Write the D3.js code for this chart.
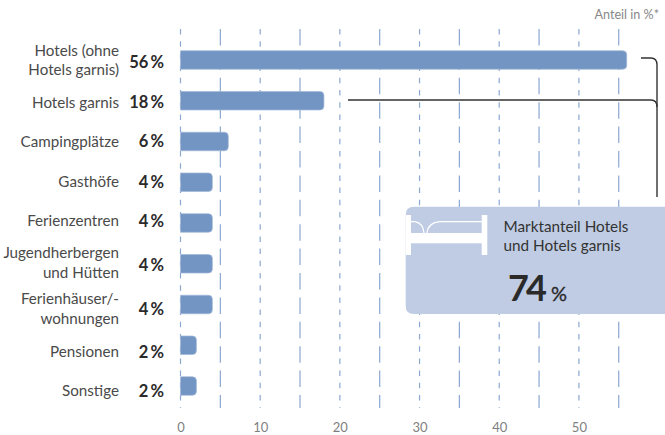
<!DOCTYPE html>
<html><head><meta charset="utf-8">
<script src="https://cdnjs.cloudflare.com/ajax/libs/d3/7.8.5/d3.min.js"></script>
<style>
html,body{margin:0;padding:0;background:#fff}
svg{display:block}
text{font-family:Lato,"Open Sans",sans-serif}
</style></head><body>
<div id="c"></div>
<script>
const categories = [["Hotels (ohne","Hotels garnis)"],["Hotels garnis"],["Campingplätze"],["Gasthöfe"],["Ferienzentren"],["Jugendherbergen","und Hütten"],["Ferienhäuser/-","wohnungen"],["Pensionen"],["Sonstige"]];
const values = [56,18,6,4,4,4,4,2,2];
const gridTicks = [0,5,10,15,20,25,30,35,40,45,50,55];
const axisTicks = [0,10,20,30,40,50];
const headerText = "Anteil in %*";
const calloutLines = ["Marktanteil Hotels","und Hotels garnis"];
const calloutValue = 74;

const W=665,H=435;
const svg=d3.select("#c").append("svg").attr("width",W).attr("height",H);
const x=d3.scaleLinear().domain([0,50]).range([180.5,578.9]);
const y=d3.scaleBand().domain(d3.range(values.length)).range([39.6,406.4]).paddingInner(0.545).paddingOuter(0.2725);
const barColor="#7295c3";

// grid
svg.append("g").selectAll("line").data(gridTicks).join("line")
 .attr("x1",d=>x(d)).attr("x2",d=>x(d)).attr("y1",29).attr("y2",408)
 .attr("stroke","#8ba8d1").attr("stroke-width",1.2)
 .attr("stroke-dasharray",d=>d%10===0?"5.5 6.7":"16.5 7.9");

// bars
svg.append("g").selectAll("path").data(values).join("path")
 .attr("fill",barColor).attr("stroke","#a3b9d9").attr("stroke-width",0.7)
 .attr("d",(d,i)=>{
   const x0=x(0),x1=x(d),y0=y(i),h=y.bandwidth(),r=4;
   return `M${x0},${y0}H${x1-r}Q${x1},${y0} ${x1},${y0+r}V${y0+h-r}Q${x1},${y0+h} ${x1-r},${y0+h}H${x0}Z`;
 });

// row labels (their rows do not sit exactly on the bars in the original)
const labelBaselines=[[56,75],[108],[147],[187],[226],[258,278],[304,324],[357],[396]];
const valueBaselines=[68,108,147,188,227,271,315,358,397];
const lab=svg.append("g").attr("text-anchor","end").attr("font-size",15.2).attr("fill","#4a4a4a");
categories.forEach((lines,i)=>lines.forEach((t,j)=>{
  lab.append("text").attr("x",119).attr("y",labelBaselines[i][j]).text(t);
}));
svg.append("g").attr("text-anchor","end").attr("font-size",16.5).attr("font-weight",700).attr("fill","#2b2a2a")
 .selectAll("text").data(values).join("text")
 .attr("x",164).attr("y",(d,i)=>valueBaselines[i]).text(d=>d+"\u2009%");

// axis
const ax=svg.append("g").attr("transform","translate(0,420)")
 .call(d3.axisBottom(x).tickValues(axisTicks).tickSize(0).tickPadding(3));
ax.select(".domain").remove();
ax.selectAll("text").attr("font-size",13).attr("fill","#7f7f7f").style("font-family","Lato,sans-serif");

svg.append("text").attr("x",659).attr("y",19).attr("text-anchor","end")
 .attr("font-size",12.6).attr("fill","#888").text(headerText);

// connectors
const conn=svg.append("g").attr("fill","none").attr("stroke","#333").attr("stroke-width",1.4);
conn.append("path").attr("d","M641,58H651Q657,58 657,65");
conn.append("path").attr("d","M348,100H651Q657,100 657,107V197");
conn.append("path").attr("d","M657,65V107");

// callout
const bx=svg.append("g");
bx.append("path").attr("fill","#bfcce3").attr("d","M665,206.7H414Q405.7,206.7 405.7,215V306Q405.7,314 414,314H665Z");
const bed=bx.append("g").attr("fill","#fff");
bed.append("rect").attr("x",405.7).attr("y",215).attr("width",5.3).attr("height",40);
bed.append("rect").attr("x",481.7).attr("y",215).attr("width",5.6).attr("height",40);
bed.append("rect").attr("x",405.7).attr("y",233).attr("width",81).attr("height",10.3);
bx.append("path").attr("fill","none").attr("stroke","#fff").attr("stroke-width",1.3)
 .attr("d","M411,221.6H415Q423,223 424,233M427,233Q428,222.5 440,221.6H482");
const ct=bx.append("g").attr("font-size",15.3).attr("fill","#333");
calloutLines.forEach((t,i)=>ct.append("text").attr("x",503.5).attr("y",232+19*i).text(t));
bx.append("text").attr("x",508).attr("y",301).attr("font-size",36).attr("font-weight",700).attr("letter-spacing",-3).attr("fill","#2b2a2a").text(calloutValue);
bx.append("text").attr("x",551).attr("y",301).attr("font-size",20).attr("font-weight",400).attr("fill","#2b2a2a").attr("stroke","#2b2a2a").attr("stroke-width",0.35).text("%");
</script>
</body></html>
